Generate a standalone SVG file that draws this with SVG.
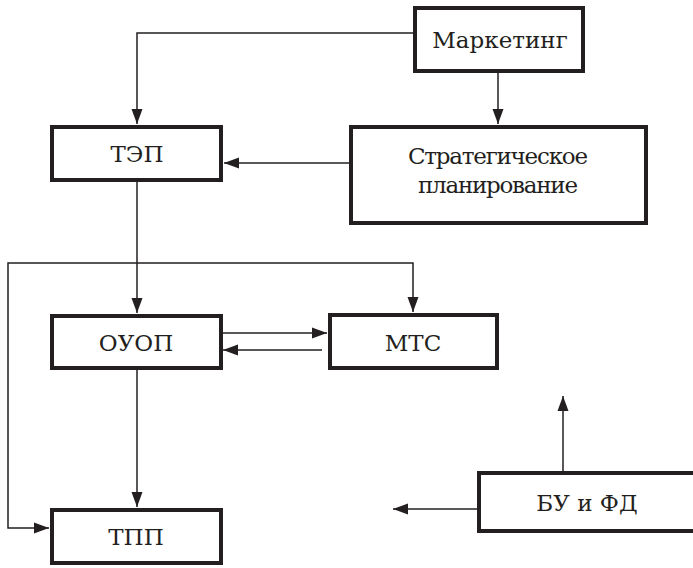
<svg xmlns="http://www.w3.org/2000/svg" width="693" height="568" viewBox="0 0 693 568">
  <style>
    .box { fill: #ffffff; stroke: #231f20; stroke-width: 4; }
    .wire { fill: none; stroke: #231f20; stroke-width: 1.5; }
    text { font-family: "DejaVu Serif", "Liberation Serif", serif; font-size: 23px; fill: #231f20; text-anchor: middle; }
  </style>
  <defs>
    <marker id="arrow" markerUnits="userSpaceOnUse" markerWidth="16" markerHeight="12" viewBox="0 0 16 12" refX="15" refY="6" orient="auto-start-reverse">
      <path d="M0,0.5 L15,6 L0,11.5 Z" fill="#231f20"/>
    </marker>
  </defs>
  <rect width="693" height="568" fill="#ffffff"/>

  <g id="connectors">
    <!-- Маркетинг -> ТЭП -->
    <path class="wire" d="M413,33 H137 V124" marker-end="url(#arrow)"/>
    <!-- Маркетинг -> Стратегическое планирование -->
    <path class="wire" d="M498,73 V124" marker-end="url(#arrow)"/>
    <!-- Стратегическое планирование -> ТЭП -->
    <path class="wire" d="M349,163 H224" marker-end="url(#arrow)"/>
    <!-- ТЭП -> ОУОП -->
    <path class="wire" d="M137,182 V313" marker-end="url(#arrow)"/>
    <!-- loop to МТС and ТПП -->
    <path class="wire" d="M413,312 V263 H8 V528 H49" marker-start="url(#arrow)" marker-end="url(#arrow)"/>
    <!-- ОУОП <-> МТС -->
    <path class="wire" d="M222,333 H327" marker-end="url(#arrow)"/>
    <path class="wire" d="M322,350 H223" marker-end="url(#arrow)"/>
    <!-- ОУОП -> ТПП -->
    <path class="wire" d="M137,370 V507" marker-end="url(#arrow)"/>
    <!-- БУ и ФД outputs -->
    <path class="wire" d="M563,471 V396" marker-end="url(#arrow)"/>
    <path class="wire" d="M477,509 H393" marker-end="url(#arrow)"/>
  </g>

  <g id="marketing">
    <rect class="box" x="415" y="8" width="168" height="63"/>
    <text x="500" y="48">Маркетинг</text>
  </g>
  <g id="tep">
    <rect class="box" x="52" y="127" width="169" height="53"/>
    <text x="137" y="162">ТЭП</text>
  </g>
  <g id="strategic-planning">
    <rect class="box" x="351" y="127" width="295" height="96"/>
    <text x="498" y="164" textLength="180">Стратегическое</text>
    <text x="498" y="193" textLength="160">планирование</text>
  </g>
  <g id="ouop">
    <rect class="box" x="52" y="316" width="169" height="52"/>
    <text x="136" y="351">ОУОП</text>
  </g>
  <g id="mts">
    <rect class="box" x="330" y="315" width="167" height="53"/>
    <text x="413" y="351">МТС</text>
  </g>
  <g id="tpp">
    <rect class="box" x="52" y="510" width="169" height="53"/>
    <text x="136" y="545">ТПП</text>
  </g>
  <g id="bu-fd">
    <rect class="box" x="479" y="473" width="218" height="58"/>
    <text x="587" y="511">БУ и ФД</text>
  </g>
</svg>
